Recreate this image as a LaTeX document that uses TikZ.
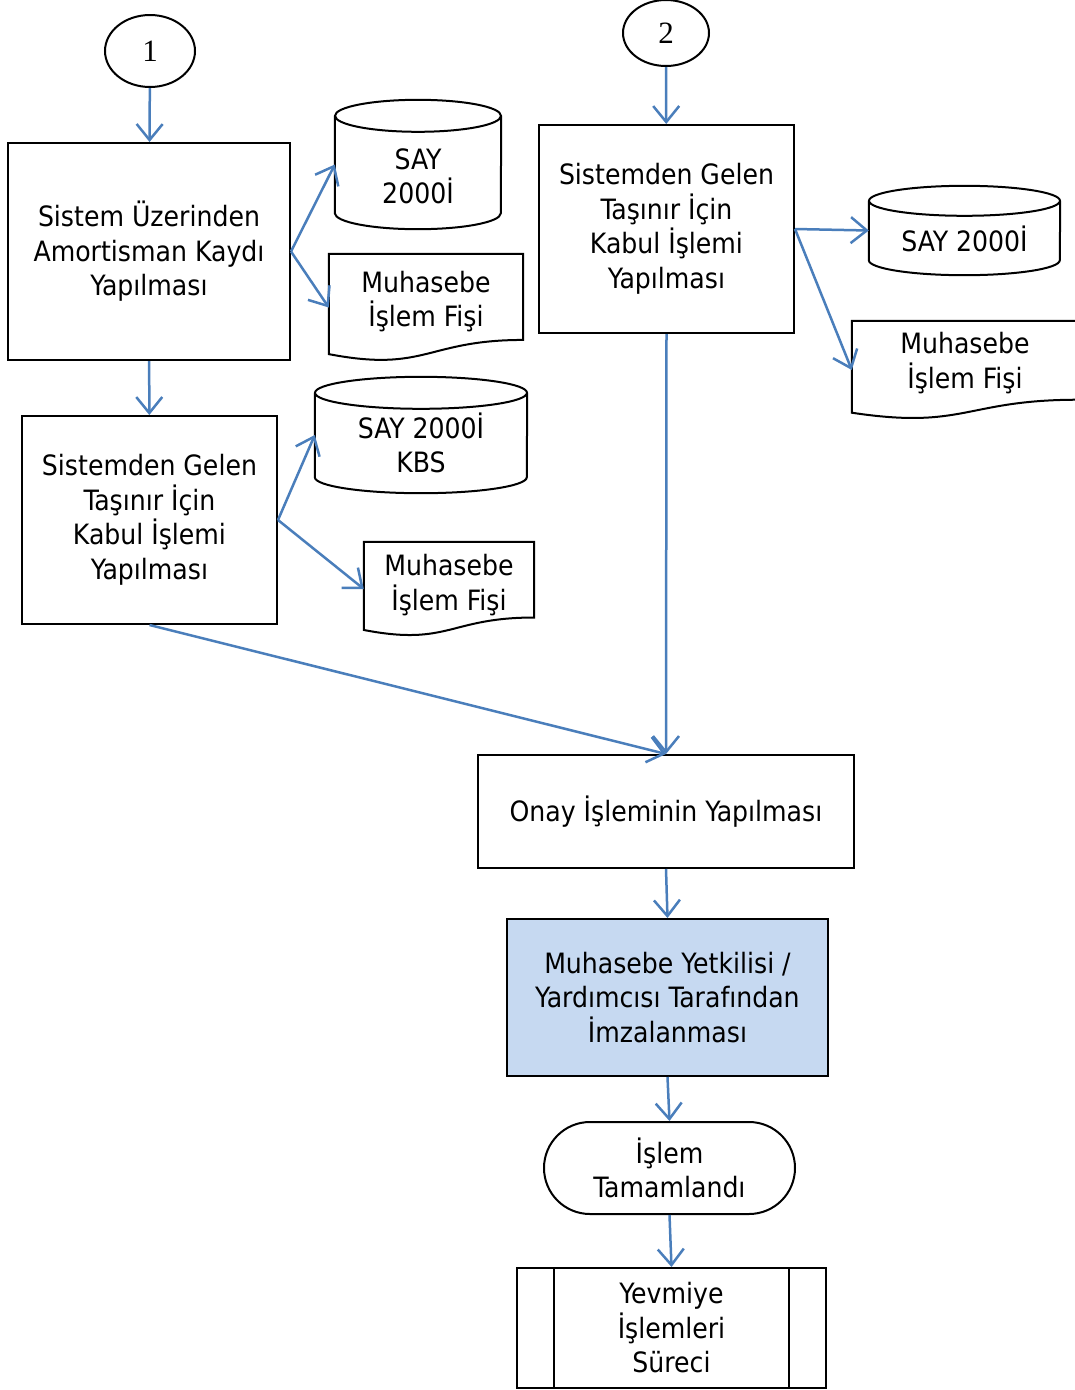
\documentclass[tikz,border=0pt]{standalone}
\usepackage{fontspec}
\setmainfont{DejaVu Sans Condensed}
\newfontfamily\numfont{Liberation Serif}
\usetikzlibrary{arrows.meta,calc,shapes.geometric}
\definecolor{okmavi}{HTML}{4A7EBB}
\definecolor{kutumavi}{HTML}{C6D9F1}

\tikzset{
  yazi/.style={font=\fontsize{28}{34.5}\selectfont},
  kutu/.style={draw,line width=2pt,align=center,inner sep=0pt,yazi},
  bos/.style={align=center,inner sep=0pt,yazi},
  numara/.style={draw,ellipse,line width=2pt,inner sep=0pt,font=\numfont\fontsize{31}{33}\selectfont},
  ok/.style={draw=okmavi,line width=2.5pt,-{Straight Barb[length=16pt,width=26pt]}}
}

\begin{document}
\begin{tikzpicture}[x=1pt,y=-1pt]
\useasboundingbox (0,0) rectangle (1075,1390);
\clip (0,0) rectangle (1075,1390);

% baslangic numaralari
\node[numara,minimum width=90,minimum height=72] (n1) at (150,51) {1};
\node[numara,minimum width=86,minimum height=66] (n2) at (666,33) {2};

% islem kutulari
\node[kutu,minimum width=282,minimum height=217] (amort) at (149,251.5)
  {Sistem Üzerinden\\Amortisman Kaydı\\Yapılması};
\node[kutu,minimum width=255,minimum height=208] (kabul1) at (149.5,520)
  {Sistemden Gelen\\Taşınır İçin\\Kabul İşlemi\\Yapılması};
\node[kutu,minimum width=255,minimum height=208] (kabul2) at (666.5,229)
  {Sistemden Gelen\\Taşınır İçin\\Kabul İşlemi\\Yapılması};
\node[kutu,minimum width=376,minimum height=113] (onay) at (666,811.5)
  {Onay İşleminin Yapılması};
\node[kutu,fill=kutumavi,minimum width=321,minimum height=157] (imza) at (667.5,997.5)
  {Muhasebe Yetkilisi /\\Yardımcısı Tarafından\\İmzalanması};
\node[kutu,rounded corners=46,minimum width=251,minimum height=92] (bitti) at (669.5,1168)
  {İşlem\\Tamamlandı};
\node[kutu,minimum width=309,minimum height=120] (yevmiye) at (671.5,1328)
  {Yevmiye\\İşlemleri\\Süreci};
\draw[line width=2pt] ($(yevmiye.north west)+(38,0)$) -- ($(yevmiye.south west)+(38,0)$)
  ($(yevmiye.north east)+(-38,0)$) -- ($(yevmiye.south east)+(-38,0)$);

% veri tabanlari
\node[minimum width=166,minimum height=129] (say1) at (418,164.5) {};
\node[minimum width=212,minimum height=116] (say2) at (421,435) {};
\node[minimum width=191,minimum height=89] (say3) at (964.5,230.5) {};
\foreach \n/\rx/\ry in {say1/83/16,say2/106/16,say3/95.5/15}
  \draw[line width=2pt] ($(\n.north west)+(0,\ry)$) -- ($(\n.south west)+(0,-\ry)$)
    arc[start angle=180,end angle=0,x radius=\rx,y radius=\ry] -- ($(\n.north east)+(0,\ry)$)
    ($(\n.north)+(0,\ry)$) ellipse[x radius=\rx,y radius=\ry];
\node[bos] (say1y) at ($(say1)+(0,12)$) {SAY\\2000İ};
\node[bos] (say2y) at ($(say2)+(0,8)$) {SAY 2000İ\\KBS};
\node[bos] (say3y) at ($(say3)+(0,8)$) {SAY 2000İ};

% fisler
\node[minimum width=194,minimum height=107] (fis1) at (426,307.5) {};
\node[minimum width=170,minimum height=94] (fis2) at (449,589) {};
\node[minimum width=226,minimum height=98] (fis3) at (965,370) {};
\foreach \n in {fis1,fis2,fis3}
  \draw[line width=2pt] (\n.north west) -- (\n.north east) -- ($(\n.north east)!.802!(\n.south east)$)
    .. controls ($(\n.north)!.802!(\n.south)$) and ($(\n.north)!1.108!(\n.south)$)
    .. ($(\n.north west)!.934!(\n.south west)$) -- cycle;
\node[bos] (fis1y) at ($(fis1)+(0,-6)$) {Muhasebe\\İşlem Fişi};
\node[bos] (fis2y) at ($(fis2)+(0,-4)$) {Muhasebe\\İşlem Fişi};
\node[bos] (fis3y) at ($(fis3)+(0,-7)$) {Muhasebe\\İşlem Fişi};

% oklar
\draw[ok] (n1) -- (amort);
\draw[ok] (amort) -- (kabul1);
\draw[ok] (amort.east) -- (say1.west);
\draw[ok] (amort.east) -- (fis1.west);
\draw[ok] (kabul1.east) -- (say2.west);
\draw[ok] (kabul1.east) -- (fis2.west);
\draw[ok] (kabul1.south) -- (onay.north);
\draw[ok] (n2) -- (kabul2);
\draw[ok] (kabul2.east) -- (say3.west);
\draw[ok] (kabul2.east) -- (fis3.west);
\draw[ok] (kabul2.south) -- (onay.north);
\draw[ok] (onay.south) -- (imza.north);
\draw[ok] (imza.south) -- (bitti.north);
\draw[ok] (bitti.south) -- (yevmiye.north);
\end{tikzpicture}
\end{document}
